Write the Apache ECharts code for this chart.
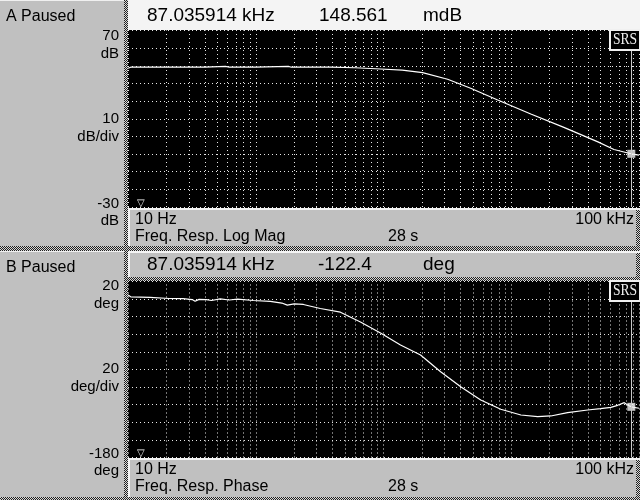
<!DOCTYPE html>
<html><head><meta charset="utf-8">
<script src="https://cdn.jsdelivr.net/npm/echarts@6/dist/echarts.min.js"></script>
<style>html,body{margin:0;padding:0;background:#c0c0c0}#c{width:640px;height:500px}</style>
</head><body><div id="c"></div>
<script>
// ---- data ----
const magFreq = [10, 10.5, 20, 40, 58, 62, 100, 180, 190, 384, 600, 947, 1400, 2023, 3177, 4812, 7834, 14223, 25820, 47690, 63680, 79070, 87036, 100000];
const magDb   = [48.6, 49.2, 49.2, 49.2, 49.7, 49.2, 49.2, 49.7, 49.2, 49.2, 48.9, 48.2, 47.5, 46.1, 42.4, 37.3, 30.6, 22.7, 15.1, 6.9, 2.6, 0.9, 0.15, -0.6];
const phFreq  = [10, 10.5, 14.9, 21, 27, 31.8, 33.5, 36, 41, 45, 52.7, 62, 72, 95.6, 130, 160, 176.6, 180, 200, 236, 320, 460, 660, 947, 1359, 1950, 2800, 4020, 5770, 8280, 11900, 16100, 20400, 27600, 39600, 50000, 60300, 68000, 76700, 81500, 87036, 100000];
const phDeg   = [4.7, 2.6, 1.9, 0.7, 0.5, -0.5, -2.4, -0.3, -0.6, -1.6, 0.3, -1.0, 0.0, -1.6, -2.5, -4.5, -6.9, -8.1, -5.5, -6.1, -10.7, -14.9, -26, -38.5, -52.2, -63.5, -82.5, -99.5, -114.7, -125.2, -131.7, -133.6, -132.8, -129.1, -126, -124.5, -123, -120.7, -117.7, -120.3, -122.4, -124];
const gridFreqs = [10,20,30,40,50,60,70,80,90,100,200,300,400,500,600,700,800,900,1000,2000,3000,4000,5000,6000,7000,8000,9000,10000,20000,30000,40000,50000,60000,70000,80000,90000,100000];
const markerFreq = 87035.914;
const markerMag = 0.148561;
const markerPhase = -122.4;
const headerA = ['87.035914 kHz', '148.561', 'mdB'];
const headerB = ['87.035914 kHz', '-122.4', 'deg'];
const yLabelsA = ['70', 'dB', '10', 'dB/div', '-30', 'dB'];
const yLabelsB = ['20', 'deg', '20', 'deg/div', '-180', 'deg'];
const magRange = [-30, 70, 10];
const phRange = [-180, 20, 20];

// ---- chart ----
const chart = echarts.init(document.getElementById('c'), null, {renderer: 'canvas'});
function checker() {
  const c = document.createElement('canvas'); c.width = 2; c.height = 2;
  const g = c.getContext('2d');
  g.fillStyle = '#d8d8d8'; g.fillRect(0, 0, 2, 2);
  g.fillStyle = '#202020'; g.fillRect(0, 0, 1, 1); g.fillRect(1, 1, 1, 1);
  return c;
}
const chk = {image: checker(), repeat: 'repeat'};
const FONT = '"Liberation Sans", Arial, sans-serif';
const dotted = {color: '#e8e8e8', width: 1, type: [1, 3]};

function rect(x, y, w, h, fill) { return {type: 'rect', z: -10, silent: true, shape: {x, y, width: w, height: h}, style: {fill}}; }
function txt(x, y, t, size, align, color) {
  return {type: 'text', z: 10, silent: true, x, y,
    style: {text: t, fill: color || '#000', font: size + 'px ' + FONT, textAlign: align || 'left', textVerticalAlign: 'middle'}};
}
const graphics = [
  // panel backgrounds
  rect(0, 0, 124, 1, '#f0f0f0'),
  rect(128, 0, 512, 30, '#f4f4f4'),
  rect(128, 30, 512, 178, '#000'),
  rect(128, 208, 512, 2, '#f4f4f4'),
  rect(128, 208, 2, 38, '#f4f4f4'),
  rect(0, 251, 124, 1, '#f0f0f0'),
  rect(128, 251, 512, 2, '#f4f4f4'),
  rect(128, 251, 2, 26, '#f4f4f4'),
  rect(128, 281, 512, 177, '#000'),
  rect(128, 458, 512, 2, '#f4f4f4'),
  rect(128, 458, 2, 39, '#f4f4f4'),
  // checkered separators
  rect(124, 0, 4, 500, chk),
  rect(0, 246, 640, 5, chk),
  rect(0, 497, 640, 3, chk),
  rect(128, 277, 512, 4, chk),
  rect(636, 210, 4, 36, chk),
  rect(636, 460, 4, 37, chk),
  rect(636, 253, 4, 24, chk),
  // left column
  txt(6, 17, 'A Paused', 16),
  txt(6, 268, 'B Paused', 16),
  txt(119, 36, yLabelsA[0], 15, 'right'), txt(119, 54, yLabelsA[1], 15, 'right'),
  txt(119, 119, yLabelsA[2], 15, 'right'), txt(119, 137, yLabelsA[3], 15, 'right'),
  txt(119, 204, yLabelsA[4], 15, 'right'), txt(119, 221, yLabelsA[5], 15, 'right'),
  txt(119, 286, yLabelsB[0], 15, 'right'), txt(119, 304, yLabelsB[1], 15, 'right'),
  txt(119, 369, yLabelsB[2], 15, 'right'), txt(119, 387, yLabelsB[3], 15, 'right'),
  txt(119, 454, yLabelsB[4], 15, 'right'), txt(119, 471, yLabelsB[5], 15, 'right'),
  // headers
  txt(147, 16, headerA[0], 19), txt(319, 16, headerA[1], 19), txt(423, 16, headerA[2], 19),
  txt(147, 265, headerB[0], 19), txt(318, 265, headerB[1], 19), txt(423, 265, headerB[2], 19),
  // info boxes
  txt(135, 220, '10 Hz', 16), txt(135, 237, 'Freq. Resp. Log Mag', 16),
  txt(388, 237, '28 s', 16), txt(634, 220, '100 kHz', 16, 'right'),
  txt(135, 470, '10 Hz', 16), txt(135, 487, 'Freq. Resp. Phase', 16),
  txt(388, 487, '28 s', 16), txt(634, 470, '100 kHz', 16, 'right'),
  // start markers
  txt(141, 203, '▽', 10, 'center', '#f0f0f0'),
  txt(141, 453, '▽', 10, 'center', '#f0f0f0'),
];
// SRS logos
[30, 281].forEach(function (y0) {
  graphics.push({type: 'rect', z: 20, silent: true, shape: {x: 610, y: y0, width: 30, height: 20}, style: {fill: '#000', stroke: '#f0f0f0', lineWidth: 2}});
  graphics.push({type: 'text', z: 21, silent: true, x: 625, y: y0 + 10, scaleX: 0.85,
    style: {text: 'SRS', fill: '#f0f0f0', font: '16px "Liberation Serif", serif', textAlign: 'center', textVerticalAlign: 'middle'}});
});

function xAx(gi) {
  return {type: 'log', logBase: 10, gridIndex: gi, min: 10, max: 100000,
    axisLine: {show: false}, axisTick: {show: false}, axisLabel: {show: false}, splitLine: {show: false}};
}
function yAx(gi, r) {
  return {type: 'value', gridIndex: gi, min: r[0], max: r[1], interval: r[2],
    axisLine: {show: false}, axisTick: {show: false}, axisLabel: {show: false},
    splitLine: {show: true, lineStyle: dotted}};
}
function gridMarks() {
  return {silent: true, symbol: 'none', label: {show: false}, lineStyle: dotted, animation: false,
    data: gridFreqs.map(function (f) { return {xAxis: f}; })};
}
function markerLine() {
  return {silent: true, symbol: 'none', label: {show: false}, animation: false,
    lineStyle: {color: '#c8c8c8', width: 1, type: 'solid'}, data: [{xAxis: markerFreq}]};
}

chart.setOption({
  animation: false,
  backgroundColor: '#c0c0c0',
  graphic: graphics,
  grid: [
    {left: 128, right: 1, top: 30.5, height: 176.5},
    {left: 128, right: 1, top: 281.5, height: 176}
  ],
  xAxis: [xAx(0), xAx(1)],
  yAxis: [yAx(0, magRange), yAx(1, phRange)],
  series: [
    {type: 'line', xAxisIndex: 0, yAxisIndex: 0, data: [], markLine: gridMarks(), z: 1},
    {type: 'line', xAxisIndex: 1, yAxisIndex: 1, data: [], markLine: gridMarks(), z: 1},
    {type: 'line', xAxisIndex: 0, yAxisIndex: 0, showSymbol: false, z: 3,
      lineStyle: {color: '#ffffff', width: 1.2}, data: magFreq.map(function (f, i) { return [f, magDb[i]]; }),
      markLine: markerLine()},
    {type: 'line', xAxisIndex: 1, yAxisIndex: 1, showSymbol: false, z: 3,
      lineStyle: {color: '#ffffff', width: 1.2}, data: phFreq.map(function (f, i) { return [f, phDeg[i]]; }),
      markLine: markerLine()},
    {type: 'scatter', xAxisIndex: 0, yAxisIndex: 0, symbol: 'rect', symbolSize: 8, z: 4,
      itemStyle: {color: '#f0f0f0'}, data: [[markerFreq, markerMag]]},
    {type: 'scatter', xAxisIndex: 1, yAxisIndex: 1, symbol: 'rect', symbolSize: 8, z: 4,
      itemStyle: {color: '#f0f0f0'}, data: [[markerFreq, markerPhase]]}
  ]
});
</script></body></html>
